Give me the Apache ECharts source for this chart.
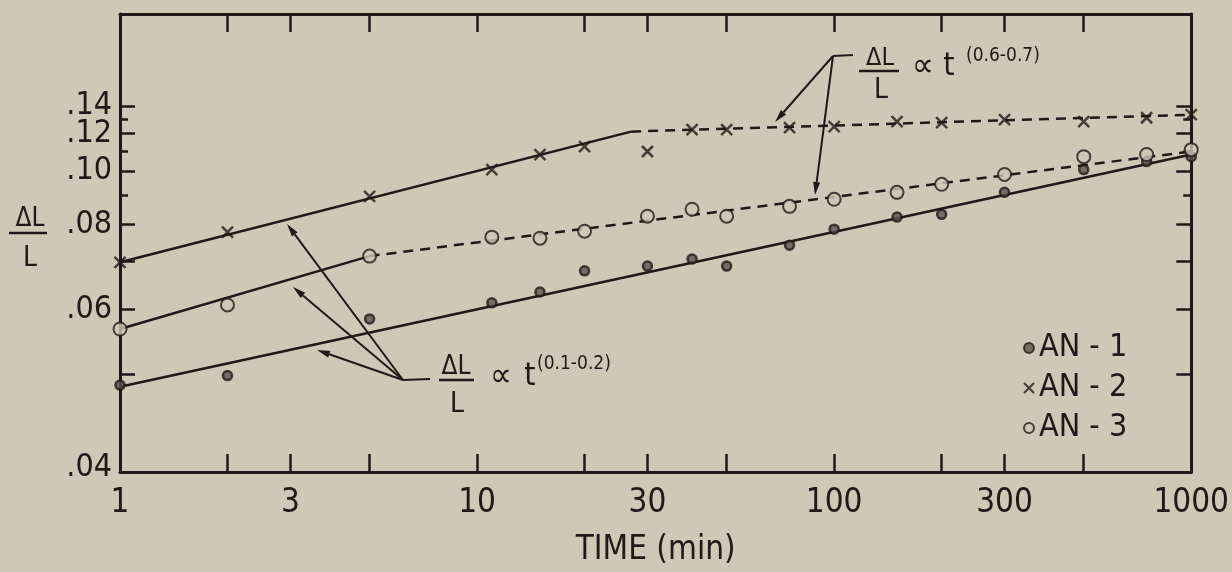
<!DOCTYPE html>
<html>
<head>
<meta charset="utf-8">
<script src="https://cdn.jsdelivr.net/npm/echarts@6/dist/echarts.min.js"></script>
<style>
  html, body { margin: 0; padding: 0; background: #cdc9b7; }
  #chart { width: 1232px; height: 572px; }
</style>
</head>
<body>
<div id="chart"></div>
<script>
// time in minutes, same sampling for the three specimens
const times = [1, 2, 5, 11, 15, 20, 30, 40, 50, 75, 100, 150, 200, 300, 500, 750, 1000];
// dL/L
const an1 = [0.0486, 0.0498, 0.0583, 0.0612, 0.0633, 0.0678, 0.0689, 0.0706, 0.0689, 0.0741, 0.0786, 0.0823, 0.0832, 0.0910, 0.1006, 0.1044, 0.1069];
const an2 = [0.0698, 0.0777, 0.0895, 0.1006, 0.1080, 0.1123, 0.1096, 0.1226, 0.1226, 0.1239, 0.1246, 0.1281, 0.1274, 0.1295, 0.1281, 0.1309, 0.1332];
const an3 = [0.0566, 0.0608, 0.0713, 0.0763, 0.0760, 0.0780, 0.0826, 0.0849, 0.0826, 0.0859, 0.0884, 0.0910, 0.0942, 0.0984, 0.1069, 0.1080, 0.1106];

// drawn fit lines, [time, dL/L]
const an1Fit = [[1, 0.0484], [1000, 0.1080]];
const an2FitEarly = [[1, 0.0698], [27, 0.1213]];
const an2FitLate = [[27, 0.1213], [1000, 0.1332]];
const an3FitEarly = [[1, 0.0566], [5, 0.0713]];
const an3FitLate = [[5, 0.0713], [1000, 0.1096]];

// axis ticks
const xLabelTicks = [1, 3, 10, 30, 100, 300, 1000];
const xTicks = [2, 3, 5, 10, 20, 30, 50, 100, 200, 300, 500];
// labels split over two axes so none gets dropped as overlapping
const yLabelTicks = [0.04, 0.06, 0.08, 0.10, 0.14];
const yLabelTicks2 = [0.12];
const yMajorTicks = [0.05, 0.06, 0.07, 0.08, 0.10, 0.12, 0.14];
const yMinorTicks = [0.09, 0.11, 0.13];

const INK = '#1f1a17';
const BG = '#cdc9b7';
const FONT = "'Liberation Sans Narrow', 'DejaVu Sans Condensed', sans-serif";

// x is a log10 scale; the printed y scale is not a true log scale,
// a power law (v^-0.8) follows its tick spacing closely
const tx = t => Math.log10(t);
const ty = v => -Math.pow(v, -0.8);
const fromTy = y => Math.pow(-y, -1.25);
const yMin = ty(0.0396);
const yMax = ty(0.289);

const pts = vals => times.map((t, i) => [tx(t), ty(vals[i])]);
const seg = arr => arr.map(p => [tx(p[0]), ty(p[1])]);

const myChart = echarts.init(document.getElementById('chart'));

const xAxisBase = {
  type: 'value',
  min: 0,
  max: 3,
  axisLine: { show: true, lineStyle: { color: INK, width: 3 } },
  axisTick: {
    show: true, inside: true, length: 18,
    customValues: xTicks.map(tx),
    lineStyle: { color: INK, width: 2.5 }
  },
  splitLine: { show: false }
};

const yAxisBase = {
  type: 'value',
  min: yMin,
  max: yMax,
  splitLine: { show: false },
  axisLabel: { show: false }
};

const yLabelStyle = {
  show: true,
  formatter: v => '.' + String(Math.round(fromTy(v) * 100)).padStart(2, '0'),
  color: INK, fontSize: 32, lineHeight: 26, fontFamily: FONT, margin: 8,
  showMinLabel: true, showMaxLabel: true, hideOverlap: false
};

function fitLine(name, data, dashed) {
  return {
    name: name,
    type: 'line',
    data: seg(data),
    symbol: 'none',
    silent: true,
    z: 2,
    lineStyle: { color: INK, width: 2.5, type: dashed ? [10, 7] : 'solid' }
  };
}

function txt(x, y, s, size, extra) {
  return {
    type: 'text', x: x, y: y, silent: true,
    style: Object.assign({
      text: s, fill: INK, font: size + 'px ' + FONT,
      align: 'center', verticalAlign: 'middle'
    }, extra || {})
  };
}

function bar(x1, y1, x2, y2, w) {
  return {
    type: 'line', silent: true,
    shape: { x1: x1, y1: y1, x2: x2, y2: y2 },
    style: { stroke: INK, lineWidth: w || 2 }
  };
}

function arrow(x1, y1, x2, y2) {
  const dx = x2 - x1, dy = y2 - y1, len = Math.hypot(dx, dy);
  const ux = dx / len, uy = dy / len;
  const bx = x2 - ux * 13, by = y2 - uy * 13;
  return [
    bar(x1, y1, bx, by, 2),
    {
      type: 'polygon', silent: true,
      shape: { points: [[x2, y2], [bx - uy * 3.5, by + ux * 3.5], [bx + uy * 3.5, by - ux * 3.5]] },
      style: { fill: INK }
    }
  ];
}

const graphics = [
  // y axis name as a fraction
  txt(30, 219, '\u0394L', 26),
  bar(9, 233, 47, 233, 2.5),
  txt(30, 259, 'L', 28),

  // upper note
  txt(880, 58, '\u0394L', 25),
  bar(859, 71, 899, 71, 2.5),
  txt(881, 91, 'L', 28),
  txt(923, 67, '\u221D', 34),
  txt(949, 67, 't', 32),
  txt(966, 56, '(0.6-0.7)', 19, { align: 'left' }),
  bar(833, 56, 853, 55, 2),
  ...arrow(833, 56, 775, 122),
  ...arrow(833, 56, 815, 195),

  // lower note
  txt(456, 367, '\u0394L', 26),
  bar(439, 380, 474, 380, 2.5),
  txt(457, 405, 'L', 28),
  txt(501, 377, '\u221D', 34),
  txt(530, 377, 't', 32),
  txt(537, 364, '(0.1-0.2)', 19, { align: 'left' }),
  bar(403, 380, 430, 379, 2),
  ...arrow(403, 380, 287, 224),
  ...arrow(403, 380, 293, 287),
  ...arrow(403, 380, 317, 350)
];

const option = {
  backgroundColor: BG,
  animation: false,
  grid: { left: 120, right: 40, top: 14, bottom: 98 },
  legend: {
    data: ['AN-1', 'AN-2', 'AN-3'],
    orient: 'vertical',
    left: 1018,
    top: 326,
    itemWidth: 10,
    itemHeight: 10,
    itemGap: 6,
    itemTextGap: 14,
    itemStyle: { borderWidth: 2 },
    formatter: name => name.replace('-', ' - '),
    textStyle: { color: INK, fontSize: 32, fontFamily: FONT, lineHeight: 34 }
  },
  xAxis: [
    Object.assign({}, xAxisBase, {
      position: 'bottom',
      axisLabel: {
        customValues: xLabelTicks.map(tx),
        formatter: v => String(Math.round(Math.pow(10, v))),
        color: INK, fontSize: 33, fontFamily: FONT, margin: 15,
        showMinLabel: true, showMaxLabel: true, hideOverlap: false
      },
      name: 'TIME (min)',
      nameLocation: 'middle',
      nameGap: 62,
      nameTextStyle: { color: INK, fontSize: 33, fontFamily: FONT }
    }),
    Object.assign({}, xAxisBase, { position: 'top', axisLabel: { show: false } })
  ],
  yAxis: [
    Object.assign({}, yAxisBase, {
      position: 'left',
      axisLine: { show: true, lineStyle: { color: INK, width: 3 } },
      axisTick: {
        show: true, inside: true, length: 15,
        customValues: yMajorTicks.map(ty),
        lineStyle: { color: INK, width: 2.5 }
      },
      axisLabel: Object.assign({}, yLabelStyle, { customValues: yLabelTicks.map(ty) })
    }),
    Object.assign({}, yAxisBase, {
      position: 'left',
      axisLine: { show: false },
      axisTick: {
        show: true, inside: true, length: 8,
        customValues: yMinorTicks.map(ty),
        lineStyle: { color: INK, width: 2.5 }
      },
      axisLabel: Object.assign({}, yLabelStyle, { customValues: yLabelTicks2.map(ty) })
    }),
    Object.assign({}, yAxisBase, {
      position: 'right',
      axisLine: { show: true, lineStyle: { color: INK, width: 3 } },
      axisTick: {
        show: true, inside: true, length: 15,
        customValues: yMajorTicks.map(ty),
        lineStyle: { color: INK, width: 2.5 }
      }
    }),
    Object.assign({}, yAxisBase, {
      position: 'right',
      axisLine: { show: false },
      axisTick: {
        show: true, inside: true, length: 8,
        customValues: yMinorTicks.map(ty),
        lineStyle: { color: INK, width: 2.5 }
      }
    })
  ],
  series: [
    fitLine('fit1', an1Fit, false),
    fitLine('fit2a', an2FitEarly, false),
    fitLine('fit2b', an2FitLate, true),
    fitLine('fit3a', an3FitEarly, false),
    fitLine('fit3b', an3FitLate, true),
    {
      name: 'AN-1',
      type: 'scatter',
      data: pts(an1),
      symbol: 'circle',
      symbolSize: 9,
      z: 3,
      itemStyle: { color: '#5d5650', borderColor: INK, borderWidth: 2.5 }
    },
    {
      name: 'AN-2',
      type: 'scatter',
      data: pts(an2),
      symbol: 'path://M0,0L10,10M10,0L0,10',
      symbolSize: 11,
      z: 3,
      itemStyle: { color: 'transparent', borderColor: INK, borderWidth: 2.5 }
    },
    {
      name: 'AN-3',
      type: 'scatter',
      data: pts(an3),
      symbol: 'circle',
      symbolSize: 13,
      z: 3,
      itemStyle: { color: BG, borderColor: INK, borderWidth: 2 }
    }
  ],
  graphic: graphics
};

myChart.setOption(option);
</script>
</body>
</html>
